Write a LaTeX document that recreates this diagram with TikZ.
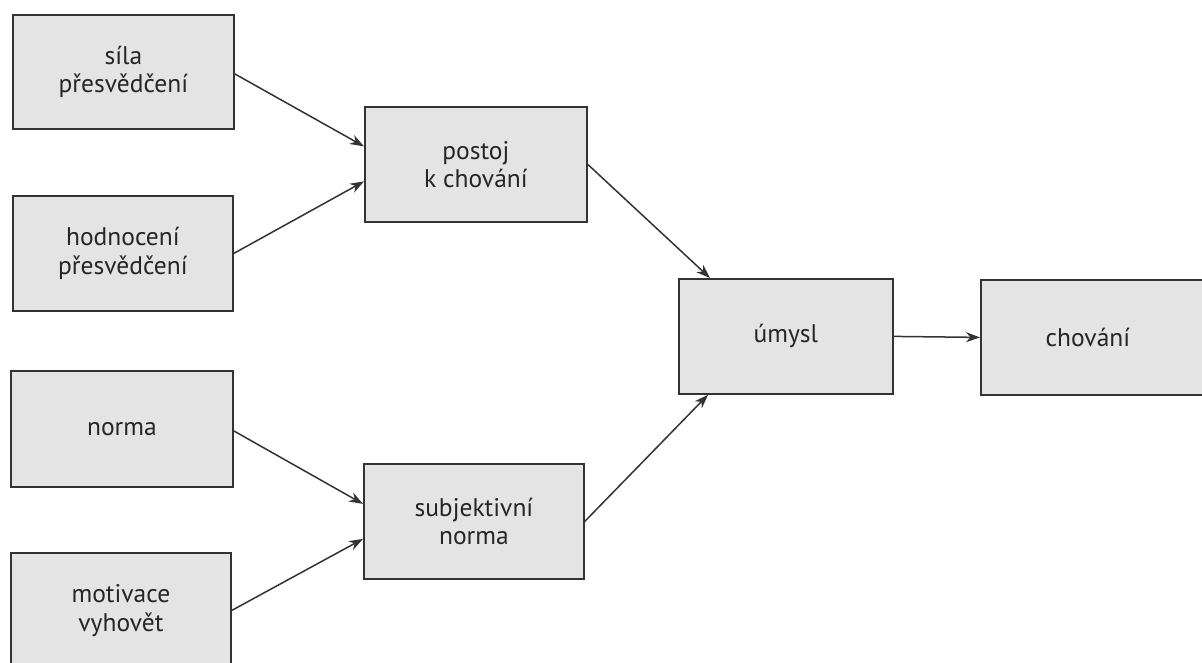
\documentclass[tikz,border=0pt]{standalone}
\usepackage{fontspec}
\setmainfont{PT Sans}
\usetikzlibrary{arrows.meta}
\definecolor{boxfill}{HTML}{E4E4E4}
\definecolor{boxline}{HTML}{333333}
\definecolor{txt}{HTML}{262626}
\tikzset{
  box/.style={draw=boxline, fill=boxfill, line width=1.8pt, rectangle, anchor=north west,
    inner sep=0pt, align=center, text=txt, font=\fontsize{25.5}{28.5}\selectfont},
  conn/.style={draw=boxline, line width=1.5pt, -{Stealth[length=14pt,width=10pt,inset=4.5pt]}}
}
\begin{document}
\begin{tikzpicture}[x=1pt,y=-1pt]
\useasboundingbox (0,0) rectangle (1202,662);
\fill[white] (0,0) rectangle (1202,662);
\clip (0,0) rectangle (1202,662);
\node[box, minimum width=221pt, minimum height=114pt] (sila) at (12,14) {síla\\přesvědčení};
\node[box, minimum width=220pt, minimum height=115pt] (hodn) at (12,195) {hodnocení\\přesvědčení};
\node[box, minimum width=222pt, minimum height=116pt] (norma) at (10,370) {norma};
\node[box, minimum width=220pt, minimum height=115pt] (motiv) at (10,552) {motivace\\vyhovět};
\node[box, minimum width=222pt, minimum height=115pt] (postoj) at (364,106) {postoj\\k chování};
\node[box, minimum width=220pt, minimum height=115pt] (subj) at (363,463) {subjektivní\\norma};
\node[box, minimum width=214pt, minimum height=115pt] (umysl) at (678,278) {úmysl};
\node[box, minimum width=240pt, minimum height=115pt] (chov) at (980,279) {\hspace*{-26pt}chování};
\draw[conn] ([yshift=-2pt]sila.east) -- ([yshift=18pt]postoj.west);
\draw[conn] (hodn.east) -- ([yshift=-17pt]postoj.west);
\draw[conn] ([yshift=-2pt]norma.east) -- ([yshift=17.5pt]subj.west);
\draw[conn] (motiv.east) -- ([yshift=-17.5pt]subj.west);
\draw[conn] (postoj.east) -- ([xshift=32pt]umysl.north west);
\draw[conn] (subj.east) -- ([xshift=30pt]umysl.south west);
\draw[conn] (umysl.east) -- (chov.west);
\end{tikzpicture}
\end{document}
